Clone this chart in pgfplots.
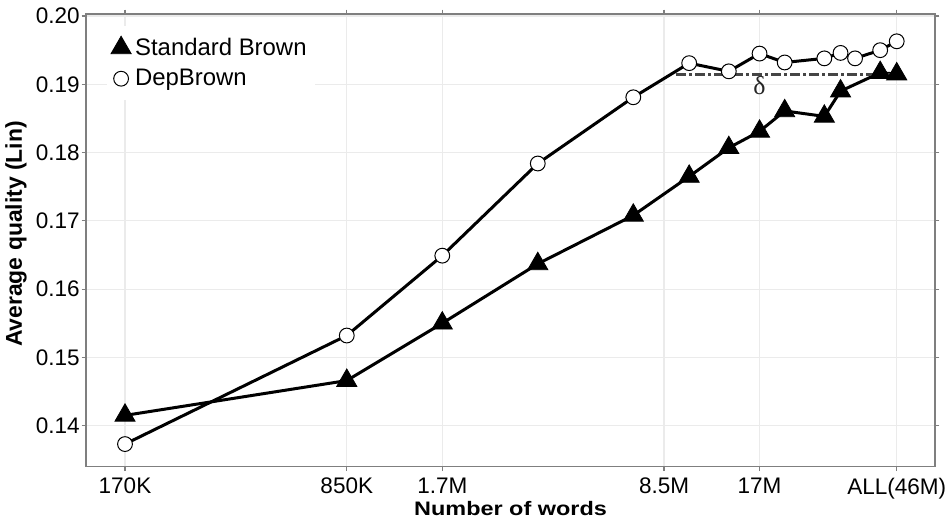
\documentclass[border=0pt]{standalone}
\usepackage{pgfplots}
\pgfplotsset{compat=1.18}
\usepackage{fontspec}
\setmainfont{Liberation Sans}
\newfontfamily\seriffont{Liberation Serif}
\newfontfamily\xlabfont[FakeStretch=1.2]{Liberation Sans}
\definecolor{gridgrey}{HTML}{EBEBEB}
\definecolor{bordergrey}{HTML}{7F7F7F}
\definecolor{deltagrey}{HTML}{454545}
\begin{document}
\begin{tikzpicture}
\begin{axis}[
  at={(0,0)}, anchor=south west,
  scale only axis, width=424.5bp, height=226.3bp,
  xmode=log, xmin=1.281e5, xmax=6.075e7,
  ymin=0.1340, ymax=0.2003,
  xtick={1.7e5,8.5e5,1.7e6,8.5e6,1.7e7,4.6e7},
  xticklabels={170K,850K,1.7M,8.5M,17M,ALL(46M)},
  xminorticks=false, yminorticks=false,
  ytick={0.14,0.15,0.16,0.17,0.18,0.19,0.20},
  yticklabel style={xshift=2.5bp, /pgf/number format/.cd, fixed, fixed zerofill, precision=2, assume math mode=true},
  tick label style={font=\fontsize{11.3}{13}\selectfont, black},
  grid=major, major grid style={draw=gridgrey, line width=0.6bp},
  axis line style={draw=bordergrey, line width=0.6bp},
  tick style={draw=bordergrey, line width=0.6bp},
  tick align=outside, major tick length=2.2bp,
  xlabel={Number of words}, ylabel={Average quality (Lin)},
  xlabel style={at={(axis description cs:0.5,-0.0926)}, anchor=center, font=\xlabfont\bfseries\fontsize{9.8}{11}\selectfont},
  ylabel style={at={(axis description cs:-0.0825,0.514)}, anchor=center, font=\bfseries\fontsize{11.5}{13}\selectfont},
  legend style={at={(0.0243,0.975)}, anchor=north west, draw=none, fill=white,
    font=\fontsize{12}{14}\selectfont, inner xsep=2bp, inner ysep=4bp, row sep=1.5bp},
  legend cell align=left,
  legend image code/.code={\draw[mark repeat=2,mark phase=2] plot coordinates {(0bp,0bp) (6bp,0bp) (12bp,0bp)};},
]
% lines
\addplot[black, line width=1.5bp, forget plot] coordinates {
(1.7e5,0.1415) (8.5e5,0.1466) (1.7e6,0.1550) (3.4e6,0.1637) (6.8e6,0.1708)
(1.02e7,0.1765) (1.36e7,0.1807) (1.7e7,0.1831) (2.04e7,0.1861) (2.72e7,0.1853)
(3.06e7,0.1890) (4.08e7,0.1917) (4.6e7,0.1915)};
\addplot[black, line width=1.5bp, forget plot] coordinates {
(1.7e5,0.1373) (8.5e5,0.1532) (1.7e6,0.1649) (3.4e6,0.1784) (6.8e6,0.1881)
(1.02e7,0.1931) (1.36e7,0.1919) (1.7e7,0.1945) (2.04e7,0.1932) (2.72e7,0.1938)
(3.06e7,0.1946) (3.4e7,0.1938) (4.08e7,0.1950) (4.6e7,0.1963)};
% delta line
\addplot[deltagrey, line width=1.5bp, dash pattern=on 5bp off 1.5bp on 1.5bp off 1.5bp, forget plot] coordinates {(9.3e6,0.1915) (4.6e7,0.1915)};
% marks
\addplot[only marks, mark=triangle*, mark size=5.8bp, mark options={fill=black, draw=black, line width=0.4bp}] coordinates {
(1.7e5,0.1415) (8.5e5,0.1466) (1.7e6,0.1550) (3.4e6,0.1637) (6.8e6,0.1708)
(1.02e7,0.1765) (1.36e7,0.1807) (1.7e7,0.1831) (2.04e7,0.1861) (2.72e7,0.1853)
(3.06e7,0.1890) (4.08e7,0.1917) (4.6e7,0.1915)};
\addlegendentry{Standard Brown}
\addplot[only marks, mark=*, mark size=3.7bp, mark options={fill=white, draw=black, line width=0.5bp}] coordinates {
(1.7e5,0.1373) (8.5e5,0.1532) (1.7e6,0.1649) (3.4e6,0.1784) (6.8e6,0.1881)
(1.02e7,0.1931) (1.36e7,0.1919) (1.7e7,0.1945) (2.04e7,0.1932) (2.72e7,0.1938)
(3.06e7,0.1946) (3.4e7,0.1938) (4.08e7,0.1950) (4.6e7,0.1963)};
\addlegendentry{DepBrown}
\node[font=\seriffont\fontsize{13}{14}\selectfont, text=black!85] at (axis cs:1.7e7,0.18975) {δ};
\end{axis}
\pgfresetboundingbox
\path (-43bp,-26.7bp) rectangle (432.5bp,233.3bp);
\end{tikzpicture}
\end{document}
